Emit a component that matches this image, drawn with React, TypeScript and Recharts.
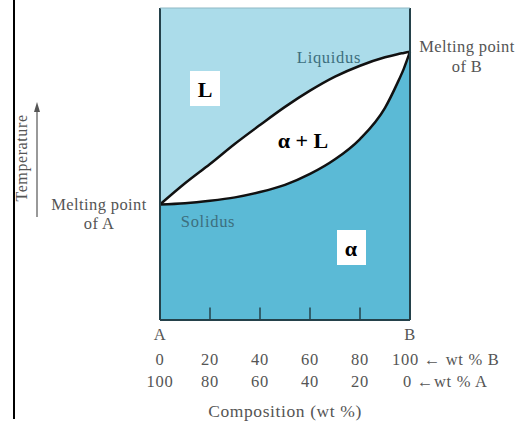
import React from 'react';
import {
  ComposedChart, Area, XAxis, YAxis, CartesianGrid, ReferenceLine,
} from 'recharts';

// composition in wt % B, temperatures on an arbitrary 0-100 scale
const composition = [0, 10, 20, 30, 40, 50, 60, 70, 80, 90, 95, 97.5, 100];
const liquidus = [37, 43.8, 50, 56.5, 62.5, 68.3, 73.5, 78, 81.5, 84.2, 85.2, 85.6, 86];
const solidus = [37, 37.4, 38.2, 39.3, 41, 43.3, 46.8, 51.5, 58, 68, 76, 80.5, 86];

const wtBTicks = [0, 20, 40, 60, 80, 100];
const wtALabels = ['100', '80', '60', '40', '20', '0'];
const innerTicks = [20, 40, 60, 80];

const data = composition.map((c, i) => ({ c, liquidus: liquidus[i], solidus: solidus[i] }));

const LIGHT = '#abdcea';
const DARK = '#5bbad6';
const GRAY = '#555';
const SERIF = '"Liberation Serif", "DejaVu Serif", serif';

const CompositionTick = (props: any) => {
  const { x, y, payload, index } = props;
  const v = payload.value;
  const last = v === 100;
  return (
    <g fontFamily={SERIF} fontSize={16.5} fill={GRAY} letterSpacing={0.7}>
      {(v === 0 || last) && (
        <text x={x} y={y + 20} textAnchor="middle" fill={GRAY}>{v === 0 ? 'A' : 'B'}</text>
      )}
      <text x={last ? x - 18 : x} y={y + 45} textAnchor={last ? 'start' : 'middle'} fill={GRAY}>
        {last ? '100 \u2190 wt % B' : v}
      </text>
      <text x={last ? x - 7 : x} y={y + 67} textAnchor={last ? 'start' : 'middle'} fill={GRAY}>
        {last ? '0 \u2190wt % A' : wtALabels[index]}
      </text>
    </g>
  );
};

const Overlay = () => (
  <svg width={519} height={421} style={{ position: 'absolute', left: 0, top: 0, pointerEvents: 'none' }}>
    <line x1={14} y1={0} x2={14} y2={419} stroke="#000" strokeWidth={2} />
    <text transform="translate(27,158) rotate(-90)" textAnchor="middle" fontFamily={SERIF}
      fontSize={16} letterSpacing={0.6} fill={GRAY}>
      Temperature
    </text>
    <line x1={37} y1={217} x2={37} y2={110} stroke={GRAY} strokeWidth={1.2} />
    <polygon points="37,102 34,112 40,112" fill={GRAY} />
    <g fontFamily={SERIF} fontSize={16.5} fill={GRAY} textAnchor="middle" letterSpacing={0.4}>
      <text x={99} y={210}>Melting point</text>
      <text x={99} y={229}>of A</text>
      <text x={467} y={52}>Melting point</text>
      <text x={467} y={72}>of B</text>
    </g>
    <text x={285} y={417} fontFamily={SERIF} fontSize={17.5} fill={GRAY} textAnchor="middle" letterSpacing={0.6}>
      Composition (wt %)
    </text>
    <g fontFamily={SERIF} fontSize={16.5} fill="#3d6f7e" textAnchor="middle" letterSpacing={0.7}>
      <text x={329} y={63}>Liquidus</text>
      <text x={208} y={227}>Solidus</text>
    </g>
    <rect x={190} y={71} width={30} height={35} fill="#fff" />
    <rect x={337} y={230} width={29} height={35} fill="#fff" />
    <g fontFamily={SERIF} fontSize={22} fontWeight="bold" fill="#000" textAnchor="middle">
      <text x={205} y={97}>L</text>
      <text x={351} y={256}>{'\u03b1'}</text>
      <text x={303} y={148}>{'\u03b1 + L'}</text>
    </g>
  </svg>
);

export default function App() {
  return (
    <div style={{ position: 'absolute', left: 0, top: 0, width: 519, height: 421, background: '#fff' }}>
      <ComposedChart width={519} height={421} data={data}
        margin={{ top: 8, right: 109, left: 160, bottom: 21 }}>
        <CartesianGrid fill={LIGHT} fillOpacity={1} horizontal={false} vertical={false} stroke="none" />
        <XAxis dataKey="c" type="number" domain={[0, 100]} ticks={wtBTicks} height={80}
          tickLine={false} tickSize={0} tickMargin={0} interval={0}
          axisLine={{ stroke: '#24414a', strokeWidth: 2 }} tick={<CompositionTick />} />
        <YAxis hide type="number" domain={[0, 100]} />
        <Area type="monotone" dataKey="liquidus" stroke="#111" strokeWidth={2.5}
          fill="#ffffff" fillOpacity={1} isAnimationActive={false} dot={false} activeDot={false} />
        <Area type="monotone" dataKey="solidus" stroke="#111" strokeWidth={2.5}
          fill={DARK} fillOpacity={1} isAnimationActive={false} dot={false} activeDot={false} />
        {innerTicks.map((t) => (
          <ReferenceLine key={t} segment={[{ x: t, y: 0 }, { x: t, y: 4 }]} stroke="#24414a" strokeWidth={1.5} />
        ))}
        <ReferenceLine x={0} stroke="#24414a" strokeWidth={2} />
        <ReferenceLine x={100} stroke="#24414a" strokeWidth={2} />
        <ReferenceLine y={100} stroke="#8fb8c4" strokeWidth={1} />
      </ComposedChart>
      <Overlay />
    </div>
  );
}
